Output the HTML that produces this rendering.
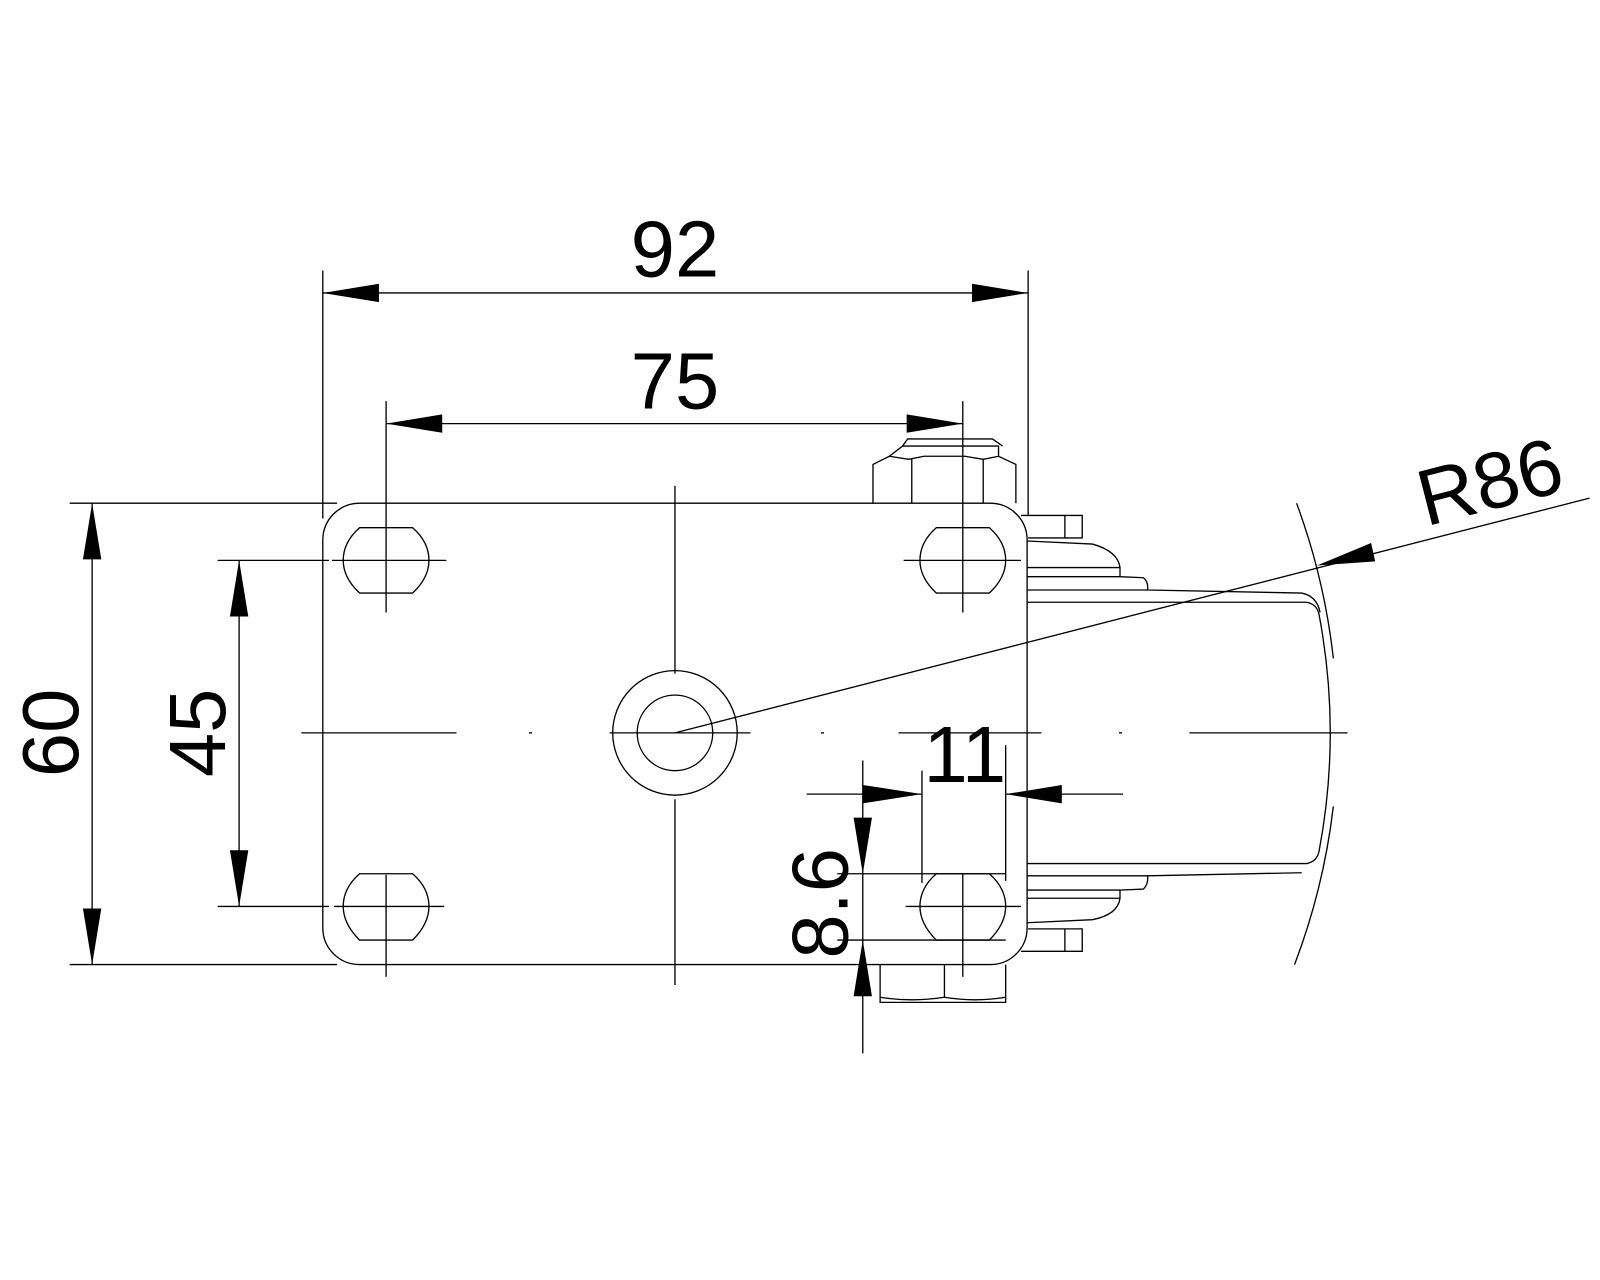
<!DOCTYPE html>
<html><head><meta charset="utf-8"><style>html,body{margin:0;padding:0;background:#fff}svg{display:block}</style></head>
<body>
<svg width="1600" height="1280" viewBox="0 0 1567 1254" xmlns="http://www.w3.org/2000/svg">
<g fill="none" stroke="#000" stroke-width="1.3">
<!-- plate -->
<rect x="316" y="493" width="690" height="452" rx="36"/>
<!-- holes -->
<path d="M352,517 L404,517 Q420,531 420,549 Q420,566 404,581 L352,581 Q336,566 336,549 Q336,531 352,517 Z"/>
<path d="M917,517 L969,517 Q985,531 985,549 Q985,566 969,581 L917,581 Q901,566 901,549 Q901,531 917,517 Z"/>
<path d="M352,856 L404,856 Q420,870 420,888 Q420,905 404,921 L352,921 Q336,905 336,888 Q336,870 352,856 Z"/>
<path d="M917,856 L969,856 Q985,870 985,888 Q985,905 969,921 L917,921 Q901,905 901,888 Q901,870 917,856 Z"/>
<!-- hole centerlines -->
<line x1="325" y1="549" x2="437" y2="549"/><line x1="378" y1="393" x2="378" y2="600"/>
<line x1="885" y1="549" x2="1000" y2="549"/><line x1="943" y1="393" x2="943" y2="600"/>
<line x1="327" y1="888" x2="435" y2="888"/><line x1="378" y1="857" x2="378" y2="957"/>
<line x1="887" y1="888" x2="1000" y2="888"/><line x1="943" y1="856" x2="943" y2="957"/>
<!-- center -->
<circle cx="661" cy="718" r="61"/><circle cx="661" cy="718" r="37"/>
<line x1="661" y1="476" x2="661" y2="660"/><line x1="661" y1="783" x2="661" y2="965"/>
<line x1="295" y1="718" x2="447" y2="718"/><line x1="518" y1="718" x2="521" y2="718"/>
<line x1="597" y1="718" x2="735" y2="718"/><line x1="804" y1="718" x2="807" y2="718"/>
<line x1="880" y1="718" x2="1020" y2="718"/><line x1="1096" y1="718" x2="1099" y2="718"/>
<line x1="1165" y1="718" x2="1320" y2="718"/>
<!-- top nut -->
<path d="M855,493 L855,455 L871,447 L890,450 L905,447 L945,447 L963,450 L978,447 L995,455 L995,493"/>
<line x1="893" y1="450" x2="893" y2="493"/><line x1="963" y1="450" x2="963" y2="493"/>
<path d="M871,447 L884,437 L978,437 L978,447" />
<path d="M884,437 L889,430 L972,430 L982,437"/>
<!-- bottom nut -->
<path d="M862,945 L862,982 L985,982 L985,945"/>
<line x1="925" y1="945" x2="925" y2="977"/>
<path d="M862,977 Q893,982 925,977 Q955,982 985,977"/>
<!-- clips -->
<path d="M1000,505 L1060,505 L1060,527 L1007,527"/><line x1="1043" y1="505" x2="1043" y2="527"/>
<path d="M1000,932 L1060,932 L1060,910 L1007,910"/><line x1="1043" y1="910" x2="1043" y2="932"/>
<!-- fork top -->
<path d="M1006,530 L1070,533 Q1095,540 1097,556 L1097,565 L1120,566 Q1125,570 1124,578 L1275,581 Q1290,584 1293,600"/>
<line x1="1006" y1="556" x2="1097" y2="556"/><line x1="1006" y1="565" x2="1097" y2="565"/>
<line x1="1006" y1="578" x2="1124" y2="578"/>
<path d="M1006,590 L1280,590 Q1290,592 1292,602 Q1303,660 1303,718 Q1303,776 1292,834 Q1290,844 1280,846 L1006,846"/>
<!-- fork bottom -->
<path d="M1006,904 L1070,901 Q1095,896 1097,880 L1097,872 L1120,871 Q1125,866 1124,858 L1275,855"/>
<line x1="1006" y1="880" x2="1097" y2="880"/><line x1="1006" y1="872" x2="1097" y2="872"/>
<line x1="1006" y1="858" x2="1124" y2="858"/>
<!-- R86 arcs -->
<path d="M1270,493 A645,645 0 0 1 1306,645"/>
<path d="M1306,790 A645,645 0 0 1 1268,945"/>
<!-- leader -->
<line x1="661" y1="718" x2="1557" y2="488"/>
<!-- dims -->
<line x1="316" y1="265" x2="316" y2="508"/><line x1="1007" y1="265" x2="1007" y2="505"/>
<line x1="316" y1="287" x2="1007" y2="287"/>
<line x1="378" y1="415" x2="943" y2="415"/>
<line x1="68" y1="493" x2="330" y2="493"/><line x1="68" y1="945" x2="330" y2="945"/>
<line x1="90" y1="493" x2="90" y2="945"/>
<line x1="213" y1="549" x2="322" y2="549"/><line x1="213" y1="888" x2="322" y2="888"/>
<line x1="234" y1="549" x2="234" y2="888"/>
<line x1="790" y1="778" x2="903" y2="778"/><line x1="985" y1="778" x2="1100" y2="778"/>
<line x1="903" y1="755" x2="903" y2="865"/><line x1="985" y1="730" x2="985" y2="863"/>
<line x1="845" y1="745" x2="845" y2="1032"/>
<line x1="820" y1="856" x2="985" y2="856"/><line x1="820" y1="921" x2="985" y2="921"/>
</g>
<g fill="#000">
<polygon points="316,287 371,278 371,296"/><polygon points="1007,287 952,278 952,296"/>
<polygon points="378,415 433,406 433,424"/><polygon points="943,415 888,406 888,424"/>
<polygon points="90,493 81,548 99,548"/><polygon points="90,945 81,890 99,890"/>
<polygon points="234,549 225,604 243,604"/><polygon points="234,888 225,833 243,833"/>
<polygon points="903,778 845,769 845,787"/><polygon points="985,778 1040,769 1040,787"/>
<polygon points="845,856 836,801 854,801"/><polygon points="845,921 836,976 854,976"/>
<polygon points="1290,554 1343,532 1347,550"/>
</g>
<g font-family="Liberation Sans, sans-serif" font-size="78" fill="#000" text-anchor="middle">
<text x="661" y="271">92</text>
<text x="661" y="400">75</text>
<text x="945" y="766">11</text>
<text transform="translate(76,718) rotate(-90)">60</text>
<text transform="translate(220,718) rotate(-90)">45</text>
<text transform="translate(830,885) rotate(-90)">8.6</text>
<text transform="translate(1466,498) rotate(-14.4)">R86</text>
</g>
</svg>
</body></html>
